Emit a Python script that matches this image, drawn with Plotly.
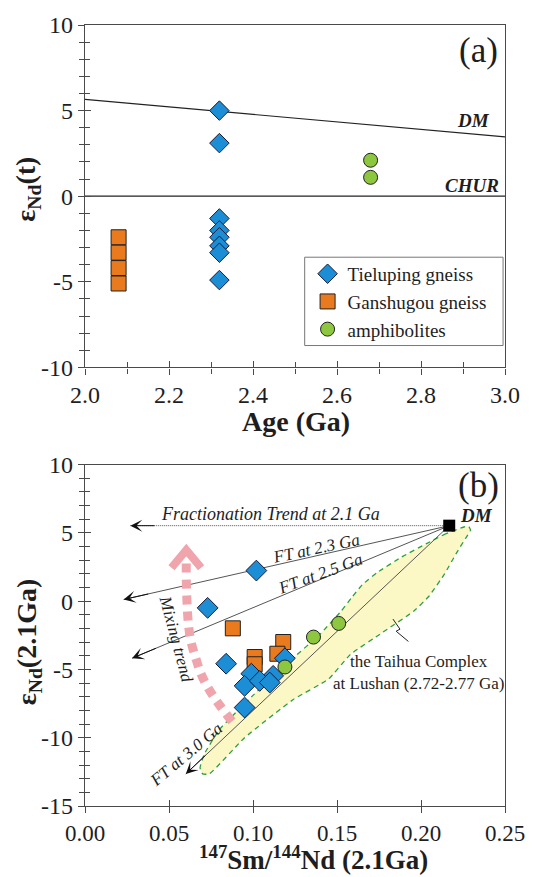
import plotly.graph_objects as go

# ---------------- Panel (a) data ----------------
tie_age = [2.32, 2.32, 2.32, 2.32, 2.32, 2.32, 2.32, 2.32]
tie_eps = [5.0, 3.1, -1.3, -2.0, -2.4, -2.9, -3.3, -4.9]
gan_age = [2.08, 2.08, 2.08, 2.08]
gan_eps = [-2.4, -3.3, -4.2, -5.1]
amp_age = [2.68, 2.68]
amp_eps = [2.1, 1.1]
dm_age = [2.0, 3.0]
dm_eps = [5.65, 3.47]
chur_age = [2.0, 3.0]
chur_eps = [0.0, 0.0]
age_ticks = [2.0, 2.2, 2.4, 2.6, 2.8, 3.0]
age_ticktext = ["2.0", "2.2", "2.4", "2.6", "2.8", "3.0"]
epsA_ticks = [-10, -5, 0, 5, 10]
epsA_ticktext = ["-10", "-5", "0", "5", "10"]
series_names = ["Tieluping gneiss", "Ganshugou gneiss", "amphibolites"]

# ---------------- Panel (b) data ----------------
tie_smnd = [0.102, 0.073, 0.084, 0.119, 0.099, 0.112, 0.095, 0.104, 0.110, 0.095]
tie_e21 = [2.24, -0.49, -4.58, -4.18, -5.31, -5.47, -6.20, -5.84, -5.96, -7.79]
gan_smnd = [0.088, 0.118, 0.1145, 0.101, 0.101]
gan_e21 = [-1.99, -2.99, -3.85, -4.09, -4.62]
amp_smnd = [0.136, 0.151, 0.119]
amp_e21 = [-2.63, -1.63, -4.82]
dm_smnd = [0.2168]
dm_e21 = [5.53]
ft_labels = ["2.1 Ga", "2.3 Ga", "2.5 Ga", "3.0 Ga"]
ft_end_smnd = [0.027, 0.023, 0.028, 0.060]
ft_end_e21 = [5.53, 0.12, -4.18, -12.65]
taihua_x = [0.226, 0.215, 0.203, 0.188, 0.174, 0.165, 0.159, 0.152, 0.140, 0.120,
            0.100, 0.080, 0.071, 0.0685, 0.070, 0.074, 0.095, 0.124, 0.145, 0.158,
            0.177, 0.196, 0.205, 0.214, 0.221, 0.2265, 0.2295, 0.2285, 0.226]
taihua_y = [5.45, 4.95, 4.2, 3.2, 2.1, 1.2, 0.3, -0.8, -2.4, -4.6,
            -6.9, -9.4, -11.2, -12.2, -12.65, -12.65, -10.0, -7.2, -5.7, -3.9,
            -2.3, -0.7, 0.4, 2.0, 3.5, 4.6, 5.2, 5.45, 5.45]
mix_x = [0.0875, 0.080, 0.0735, 0.069, 0.066, 0.063, 0.0615, 0.0607, 0.0603, 0.0603]
mix_y = [-8.8, -7.6, -6.4, -5.3, -4.2, -2.9, -1.6, 0.0, 1.5, 3.3]
mix_head_x = [0.0515, 0.0603, 0.0691]
mix_head_y = [2.45, 3.75, 2.45]
leader_x = [0.1833, 0.1875, 0.1852, 0.1925]
leader_y = [-1.31, -2.05, -2.2, -2.95]
smnd_ticks = [0.0, 0.05, 0.10, 0.15, 0.20, 0.25]
smnd_ticktext = ["0.00", "0.05", "0.10", "0.15", "0.20", "0.25"]
epsB_ticks = [-15, -10, -5, 0, 5, 10]
epsB_ticktext = ["-15", "-10", "-5", "0", "5", "10"]

BLUE = "#1b8ed6"
ORANGE = "#ea7a1e"
GREEN = "#8dc63f"
PINK = "#f0a4ab"
LINE = "#4a4a4a"
SERIF = "Liberation Serif"
TXT = "#1e1e1e"

fig = go.Figure()

# ---------- panel (a) ----------
fig.add_trace(go.Scatter(x=dm_age, y=dm_eps, mode="lines", line=dict(color="#222", width=1.2),
                         showlegend=False, hoverinfo="skip"))
fig.add_trace(go.Scatter(x=chur_age, y=chur_eps, mode="lines", line=dict(color="#222", width=1.2),
                         showlegend=False, hoverinfo="skip"))
fig.add_trace(go.Scatter(x=gan_age, y=gan_eps, mode="markers", name=series_names[1], legendrank=2,
                         marker=dict(symbol="square", size=15, color=ORANGE, line=dict(color="#222", width=1))))
fig.add_trace(go.Scatter(x=tie_age, y=tie_eps, mode="markers", name=series_names[0], legendrank=1,
                         marker=dict(symbol="diamond", size=15, color=BLUE, line=dict(color="#1a1a3a", width=1))))
fig.add_trace(go.Scatter(x=amp_age, y=amp_eps, mode="markers", name=series_names[2], legendrank=3,
                         marker=dict(symbol="circle", size=14, color=GREEN, line=dict(color="#222", width=1))))

# ---------- panel (b) ----------
fig.add_trace(go.Scatter(x=taihua_x, y=taihua_y, mode="lines", fill="toself", fillcolor="#fcf8c6",
                         line=dict(color="#2e9e3e", width=1.3, dash="5px,4px", shape="spline", smoothing=0.4),
                         xaxis="x2", yaxis="y2", showlegend=False, hoverinfo="skip"))
for i, lab in enumerate(ft_labels):
    fig.add_trace(go.Scatter(x=[dm_smnd[0], ft_end_smnd[i]], y=[dm_e21[0], ft_end_e21[i]], mode="lines",
                             line=dict(color="#555", width=1, dash="1px,1px" if i == 0 else "solid"),
                             xaxis="x2", yaxis="y2", showlegend=False, hoverinfo="skip"))
fig.add_trace(go.Scatter(x=mix_x, y=mix_y, mode="lines",
                         line=dict(color=PINK, width=9, dash="9px,7px", shape="spline"),
                         xaxis="x2", yaxis="y2", showlegend=False, hoverinfo="skip"))
fig.add_trace(go.Scatter(x=mix_head_x, y=mix_head_y, mode="lines",
                         line=dict(color=PINK, width=8),
                         xaxis="x2", yaxis="y2", showlegend=False, hoverinfo="skip"))
fig.add_trace(go.Scatter(x=leader_x, y=leader_y, mode="lines", line=dict(color="#222", width=1),
                         xaxis="x2", yaxis="y2", showlegend=False, hoverinfo="skip"))
fig.add_trace(go.Scatter(x=gan_smnd, y=gan_e21, mode="markers", xaxis="x2", yaxis="y2", showlegend=False,
                         marker=dict(symbol="square", size=15, color=ORANGE, line=dict(color="#222", width=1))))
fig.add_trace(go.Scatter(x=tie_smnd, y=tie_e21, mode="markers", xaxis="x2", yaxis="y2", showlegend=False,
                         marker=dict(symbol="diamond", size=16, color=BLUE, line=dict(color="#1a1a3a", width=1))))
fig.add_trace(go.Scatter(x=amp_smnd, y=amp_e21, mode="markers", xaxis="x2", yaxis="y2", showlegend=False,
                         marker=dict(symbol="circle", size=14, color=GREEN, line=dict(color="#222", width=1))))
fig.add_trace(go.Scatter(x=dm_smnd, y=dm_e21, mode="markers", xaxis="x2", yaxis="y2", showlegend=False,
                         marker=dict(symbol="square", size=12, color="#000")))

# invisible traces for inner tick overlays
fig.add_trace(go.Scatter(x=[None], y=[None], xaxis="x3", yaxis="y3", showlegend=False, hoverinfo="skip"))
fig.add_trace(go.Scatter(x=[None], y=[None], xaxis="x4", yaxis="y4", showlegend=False, hoverinfo="skip"))

# geometry
L, R, T, B = 85, 18, 19, 71
W = 537 - L - R
H = 877 - T - B
topA, botA = 19, 364
topB, botB = 462, 806
dA = [(877 - B - botA) / H, 1.0]
dB = [0.0, (877 - B - topB) / H]


def px2paper(px, py):
    return (px - L) / W, (877 - B - py) / H


tickfont = dict(family=SERIF, size=24, color=TXT)
axcommon = dict(showgrid=False, zeroline=False, showline=True, linecolor=LINE, linewidth=1.3, mirror=True,
                ticks="outside", tickcolor=LINE, tickwidth=1.2, ticklen=6,
                tickmode="array")
inner = dict(showgrid=False, zeroline=False, showline=False, showticklabels=False,
             ticks="inside", tickcolor=LINE, tickwidth=1.2, ticklen=6)

lx, ly = px2paper(315, 298)
fig.update_layout(
    width=537, height=877, margin=dict(l=L, r=R, t=T, b=B),
    paper_bgcolor="white", plot_bgcolor="white",
    font=dict(family=SERIF, color=TXT, size=18),
    xaxis=dict(domain=[0, 1], range=[2, 3], anchor="y", tickvals=age_ticks, ticktext=age_ticktext,
               tickfont=tickfont,
               minor=dict(dtick=0.1, tick0=2, ticks="outside", ticklen=5, tickcolor=LINE), **axcommon),
    yaxis=dict(domain=dA, range=[-10, 10], anchor="x", tickvals=epsA_ticks, ticktext=epsA_ticktext,
               tickfont=tickfont,
               minor=dict(dtick=1, tick0=0, ticks="outside", ticklen=5, tickcolor=LINE), **axcommon),
    xaxis2=dict(domain=[0, 1], range=[0, 0.25], anchor="y2", tickvals=smnd_ticks, ticktext=smnd_ticktext,
                tickfont=dict(family=SERIF, size=23, color=TXT), **axcommon),
    yaxis2=dict(domain=dB, range=[-15, 10], anchor="x2", tickvals=epsB_ticks, ticktext=epsB_ticktext,
                tickfont=tickfont,
                minor=dict(dtick=1, tick0=0, ticks="outside", ticklen=5, tickcolor=LINE), **axcommon),
    xaxis3=dict(overlaying="x", range=[2, 3], anchor="y3", dtick=0.2, tick0=2,
                minor=dict(dtick=0.1, ticks="inside", ticklen=5, tickcolor=LINE), **inner),
    yaxis3=dict(overlaying="y", range=[-10, 10], anchor="x3", dtick=5, tick0=0,
                minor=dict(dtick=1, ticks="inside", ticklen=5, tickcolor=LINE), **inner),
    xaxis4=dict(overlaying="x2", range=[0, 0.25], anchor="y4", dtick=0.05, tick0=0, **inner),
    yaxis4=dict(overlaying="y2", range=[-15, 10], anchor="x4", dtick=5, tick0=0,
                minor=dict(dtick=1, ticks="inside", ticklen=5, tickcolor=LINE), **inner),
    legend=dict(x=lx, y=ly, xanchor="left", yanchor="middle",
                bgcolor="rgba(0,0,0,0)", borderwidth=0,
                font=dict(family=SERIF, size=19, color=TXT), tracegroupgap=0, itemwidth=30),
    showlegend=True,
)

# legend frame
bx0, by0 = px2paper(312, 342)
bx1, by1 = px2paper(517, 253)
fig.add_shape(type="rect", xref="paper", yref="paper", x0=bx0, y0=by0, x1=bx1, y1=by1,
              line=dict(color="#777", width=1), fillcolor="white", layer="above")

ann = []
# axis titles
xp, yp = px2paper(303, 419)
ann.append(dict(x=xp, y=yp, xref="paper", yref="paper", text="<b>Age (Ga)</b>", showarrow=False,
                font=dict(family=SERIF, size=28, color=TXT)))
xp, yp = px2paper(26, 184)
ann.append(dict(x=xp, y=yp, xref="paper", yref="paper", xanchor="center", yanchor="middle",
                text="<b>ε<sub>Nd</sub>(t)</b>",
                showarrow=False, textangle=-90, font=dict(family=SERIF, size=28, color=TXT)))
xp, yp = px2paper(321, 878)
ann.append(dict(x=xp, y=yp, xref="paper", yref="paper", yanchor="bottom",
                text="<b><sup>147</sup>Sm/<sup>144</sup>Nd (2.1Ga)</b>", showarrow=False,
                font=dict(family=SERIF, size=27, color=TXT)))
xp, yp = px2paper(26, 641)
ann.append(dict(x=xp, y=yp, xref="paper", yref="paper", xanchor="center", yanchor="middle",
                text="<b>ε<sub>Nd</sub>(2.1Ga)</b>",
                showarrow=False, textangle=-90, font=dict(family=SERIF, size=28, color=TXT)))

# panel (a) labels
ann.append(dict(x=2.988, y=8.5, xref="x", yref="y", text="(a)", showarrow=False, xanchor="right",
                font=dict(family=SERIF, size=35, color=TXT)))
ann.append(dict(x=2.968, y=4.45, xref="x", yref="y", text="<b><i>DM</i></b>", showarrow=False, xanchor="right",
                font=dict(family=SERIF, size=19, color=TXT)))
ann.append(dict(x=2.99, y=0.6, xref="x", yref="y", text="<b><i>CHUR</i></b>", showarrow=False, xanchor="right",
                font=dict(family=SERIF, size=19, color=TXT)))

# panel (b) labels
ann.append(dict(x=0.2478, y=8.5, xref="x2", yref="y2", text="(b)", showarrow=False, xanchor="right",
                font=dict(family=SERIF, size=35, color=TXT)))
ann.append(dict(x=0.2222, y=6.3, xref="x2", yref="y2", text="<b><i>DM</i></b>", showarrow=False, xanchor="left",
                font=dict(family=SERIF, size=19, color=TXT)))
ann.append(dict(x=0.1106, y=6.37, xref="x2", yref="y2", text="<i>Fractionation Trend at 2.1 Ga</i>",
                showarrow=False, font=dict(family=SERIF, size=18, color=TXT)))
ann.append(dict(x=0.1375, y=3.83, xref="x2", yref="y2", text="<i>FT at " + ft_labels[1] + "</i>",
                showarrow=False, textangle=-12, font=dict(family=SERIF, size=17, color=TXT)))
ann.append(dict(x=0.1403, y=2.0, xref="x2", yref="y2", text="<i>FT at " + ft_labels[2] + "</i>",
                showarrow=False, textangle=-20, font=dict(family=SERIF, size=17, color=TXT)))
ann.append(dict(x=0.0603, y=-11.24, xref="x2", yref="y2", text="<i>FT at " + ft_labels[3] + "</i>",
                showarrow=False, textangle=-40, font=dict(family=SERIF, size=17, color=TXT)))
ann.append(dict(x=0.0546, y=-2.77, xref="x2", yref="y2", text="<i>Mixing trend</i>",
                showarrow=False, textangle=75, font=dict(family=SERIF, size=17, color=TXT)))
ann.append(dict(x=0.1983, y=-5.2, xref="x2", yref="y2",
                text="the Taihua Complex<br>at Lushan (2.72-2.77 Ga)",
                showarrow=False, font=dict(family=SERIF, size=17, color=TXT)))

# arrowheads at end of FT lines
for i in range(len(ft_labels)):
    x0, y0 = dm_smnd[0], dm_e21[0]
    x1, y1 = ft_end_smnd[i], ft_end_e21[i]
    f = 0.08
    ann.append(dict(x=x1, y=y1, ax=x1 + (x0 - x1) * f, ay=y1 + (y0 - y1) * f,
                    xref="x2", yref="y2", axref="x2", ayref="y2", text="", showarrow=True,
                    arrowhead=3, arrowsize=2, arrowwidth=1, arrowcolor="#111", standoff=0))

fig.update_layout(annotations=ann)
fig.write_html("out.html")
